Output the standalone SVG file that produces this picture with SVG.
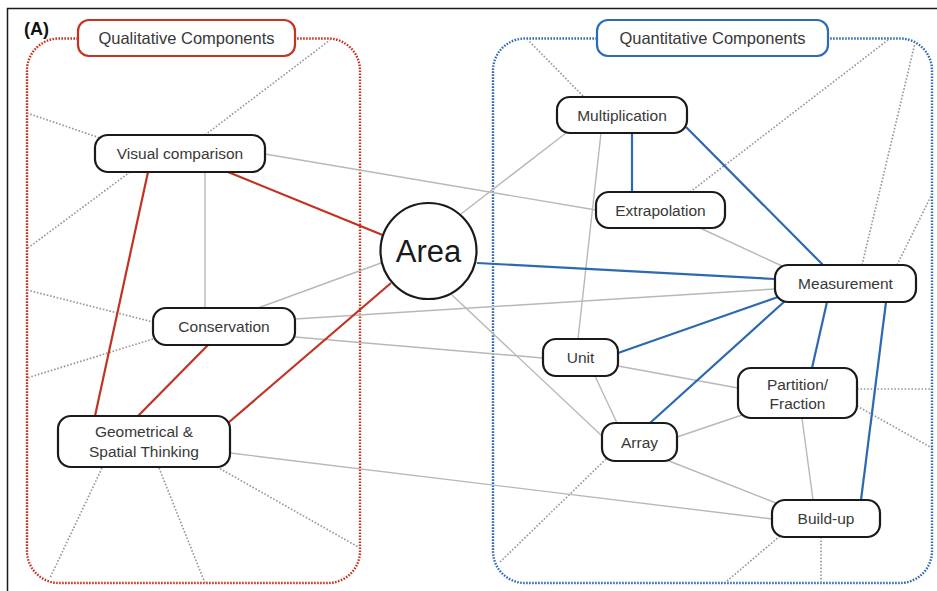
<svg xmlns="http://www.w3.org/2000/svg" width="937" height="591" viewBox="0 0 937 591">
  <style>
    .node rect, .node circle { fill: #fff; stroke: #1a1a1a; stroke-width: 2.2; }
    .label { font-family: "Liberation Sans", Arial, sans-serif; font-size: 15.5px; fill: #383838; text-anchor: middle; }
    .group-title { font-family: "Liberation Sans", Arial, sans-serif; font-size: 16.5px; fill: #383838; text-anchor: middle; }
    .red { stroke: #c23222; stroke-width: 2.2; fill: none; }
    .blue { stroke: #2d68b2; stroke-width: 2.2; fill: none; }
    .weak { stroke: #b8b8b8; stroke-width: 1.4; fill: none; }
    .dotted { stroke: #999; stroke-width: 1.7; stroke-dasharray: 1.6 1.8; fill: none; }
    .box-red { stroke: #c8331f; stroke-width: 2.4; stroke-dasharray: 1.6 1.4; fill: none; }
    .box-blue { stroke: #2f6ab6; stroke-width: 2.4; stroke-dasharray: 1.6 1.4; fill: none; }
  </style>

  <rect x="0" y="0" width="937" height="591" fill="#fff"/>

  <!-- panel frame -->
  <path d="M7.5 591 V8.5 H937" fill="none" stroke="#1a1a1a" stroke-width="1.5"/>
  <text x="24" y="35" font-family="Liberation Sans, Arial, sans-serif" font-size="18" font-weight="bold" fill="#111">(A)</text>

  <!-- group outlines -->
  <g id="group-qualitative">
    <path class="box-red" d="M78 38.5 H59 A32 32 0 0 0 27 70.5 V551 A32 32 0 0 0 59 583 H328 A32 32 0 0 0 360 551 V70.5 A32 32 0 0 0 328 38.5 H295"/>
  </g>
  <g id="group-quantitative">
    <path class="box-blue" d="M597 38.5 H525 A32 32 0 0 0 493 70.5 V551 A32 32 0 0 0 525 583 H900 A32 32 0 0 0 932 551 V70.5 A32 32 0 0 0 900 38.5 H828"/>
  </g>

  <!-- connectors -->
  <g id="connectors">
    <!-- outward dotted links -->
    <line class="dotted" x1="27" y1="113" x2="100" y2="138"/>
    <line class="dotted" x1="205" y1="135" x2="330" y2="40"/>
    <line class="dotted" x1="130" y1="172" x2="28" y2="248"/>
    <line class="dotted" x1="27" y1="290" x2="153" y2="322"/>
    <line class="dotted" x1="153" y1="339" x2="27" y2="378"/>
    <line class="dotted" x1="102" y1="468" x2="50" y2="578"/>
    <line class="dotted" x1="159" y1="468" x2="205" y2="583"/>
    <line class="dotted" x1="217" y1="467" x2="360" y2="548"/>
    <line class="dotted" x1="583" y1="96" x2="528" y2="40"/>
    <line class="dotted" x1="690" y1="192" x2="888" y2="40"/>
    <line class="dotted" x1="862" y1="265" x2="915" y2="43"/>
    <line class="dotted" x1="897" y1="265" x2="932" y2="194"/>
    <line class="dotted" x1="857" y1="389" x2="932" y2="389"/>
    <line class="dotted" x1="857" y1="406" x2="932" y2="448"/>
    <line class="dotted" x1="780" y1="536" x2="727" y2="581"/>
    <line class="dotted" x1="821" y1="537" x2="821" y2="583"/>
    <line class="dotted" x1="606" y1="459" x2="500" y2="562"/>

    <!-- weak links -->
    <line class="weak" x1="265" y1="154" x2="596" y2="210"/>
    <line class="weak" x1="205" y1="172" x2="205" y2="308"/>
    <line class="weak" x1="258" y1="308" x2="381" y2="263"/>
    <line class="weak" x1="295" y1="319" x2="775" y2="289"/>
    <line class="weak" x1="295" y1="337" x2="543" y2="358"/>
    <line class="weak" x1="452" y1="295" x2="602" y2="436"/>
    <line class="weak" x1="461" y1="214" x2="566" y2="133"/>
    <line class="weak" x1="601" y1="133" x2="578" y2="339"/>
    <line class="weak" x1="700" y1="228" x2="782" y2="266"/>
    <line class="weak" x1="618" y1="366" x2="738" y2="388"/>
    <line class="weak" x1="595" y1="376" x2="617" y2="423"/>
    <line class="weak" x1="677" y1="437" x2="742" y2="415"/>
    <line class="weak" x1="669" y1="461" x2="776" y2="503"/>
    <line class="weak" x1="230" y1="453" x2="772" y2="519"/>
    <line class="weak" x1="802" y1="418" x2="813" y2="500"/>

    <!-- qualitative links -->
    <line class="red" x1="228" y1="172" x2="385" y2="236"/>
    <line class="red" x1="148" y1="172" x2="95" y2="416"/>
    <line class="red" x1="208" y1="345" x2="138" y2="416"/>
    <line class="red" x1="391" y1="283" x2="228" y2="423"/>

    <!-- quantitative links -->
    <line class="blue" x1="632" y1="133" x2="632" y2="192"/>
    <line class="blue" x1="686" y1="127" x2="823" y2="265"/>
    <line class="blue" x1="477" y1="263" x2="775" y2="279"/>
    <line class="blue" x1="618" y1="353" x2="778" y2="297"/>
    <line class="blue" x1="650" y1="423" x2="785" y2="301"/>
    <line class="blue" x1="827" y1="302" x2="812" y2="368"/>
    <line class="blue" x1="886" y1="302" x2="861" y2="500"/>
  </g>

  <!-- group labels -->
  <g id="label-qualitative">
    <rect x="78" y="20" width="217" height="36" rx="11" fill="#fff" stroke="#c8331f" stroke-width="2.2"/>
    <text class="group-title" x="186.5" y="44">Qualitative Components</text>
  </g>
  <g id="label-quantitative">
    <rect x="597" y="20" width="231" height="36" rx="11" fill="#fff" stroke="#2f6ab6" stroke-width="2.2"/>
    <text class="group-title" x="712.5" y="44">Quantitative Components</text>
  </g>

  <!-- nodes -->
  <g id="node-area" class="node">
    <circle cx="428.5" cy="251" r="48"/>
    <text x="428.5" y="262" font-family="Liberation Sans, Arial, sans-serif" font-size="31" fill="#1a1a1a" text-anchor="middle">Area</text>
  </g>
  <g id="node-visual-comparison" class="node">
    <rect x="95" y="135" width="170" height="37" rx="13"/>
    <text class="label" x="180" y="159">Visual comparison</text>
  </g>
  <g id="node-conservation" class="node">
    <rect x="153" y="308" width="142" height="37" rx="13"/>
    <text class="label" x="224" y="332">Conservation</text>
  </g>
  <g id="node-geometrical" class="node">
    <rect x="58" y="416" width="172" height="51" rx="13"/>
    <text class="label" x="144" y="437">Geometrical &amp;</text>
    <text class="label" x="144" y="457">Spatial Thinking</text>
  </g>
  <g id="node-multiplication" class="node">
    <rect x="557" y="97" width="130" height="36" rx="13"/>
    <text class="label" x="622" y="121">Multiplication</text>
  </g>
  <g id="node-extrapolation" class="node">
    <rect x="596" y="192" width="129" height="36" rx="13"/>
    <text class="label" x="660.5" y="216">Extrapolation</text>
  </g>
  <g id="node-measurement" class="node">
    <rect x="775" y="265" width="141" height="37" rx="13"/>
    <text class="label" x="845.5" y="289">Measurement</text>
  </g>
  <g id="node-unit" class="node">
    <rect x="543" y="339" width="75" height="37" rx="13"/>
    <text class="label" x="580.5" y="363">Unit</text>
  </g>
  <g id="node-partition" class="node">
    <rect x="738" y="368" width="119" height="50" rx="13"/>
    <text class="label" x="797.5" y="390">Partition/</text>
    <text class="label" x="797.5" y="409">Fraction</text>
  </g>
  <g id="node-array" class="node">
    <rect x="602" y="423" width="75" height="38" rx="13"/>
    <text class="label" x="639.5" y="448">Array</text>
  </g>
  <g id="node-build-up" class="node">
    <rect x="772" y="500" width="108" height="37" rx="13"/>
    <text class="label" x="826" y="524">Build-up</text>
  </g>
</svg>
